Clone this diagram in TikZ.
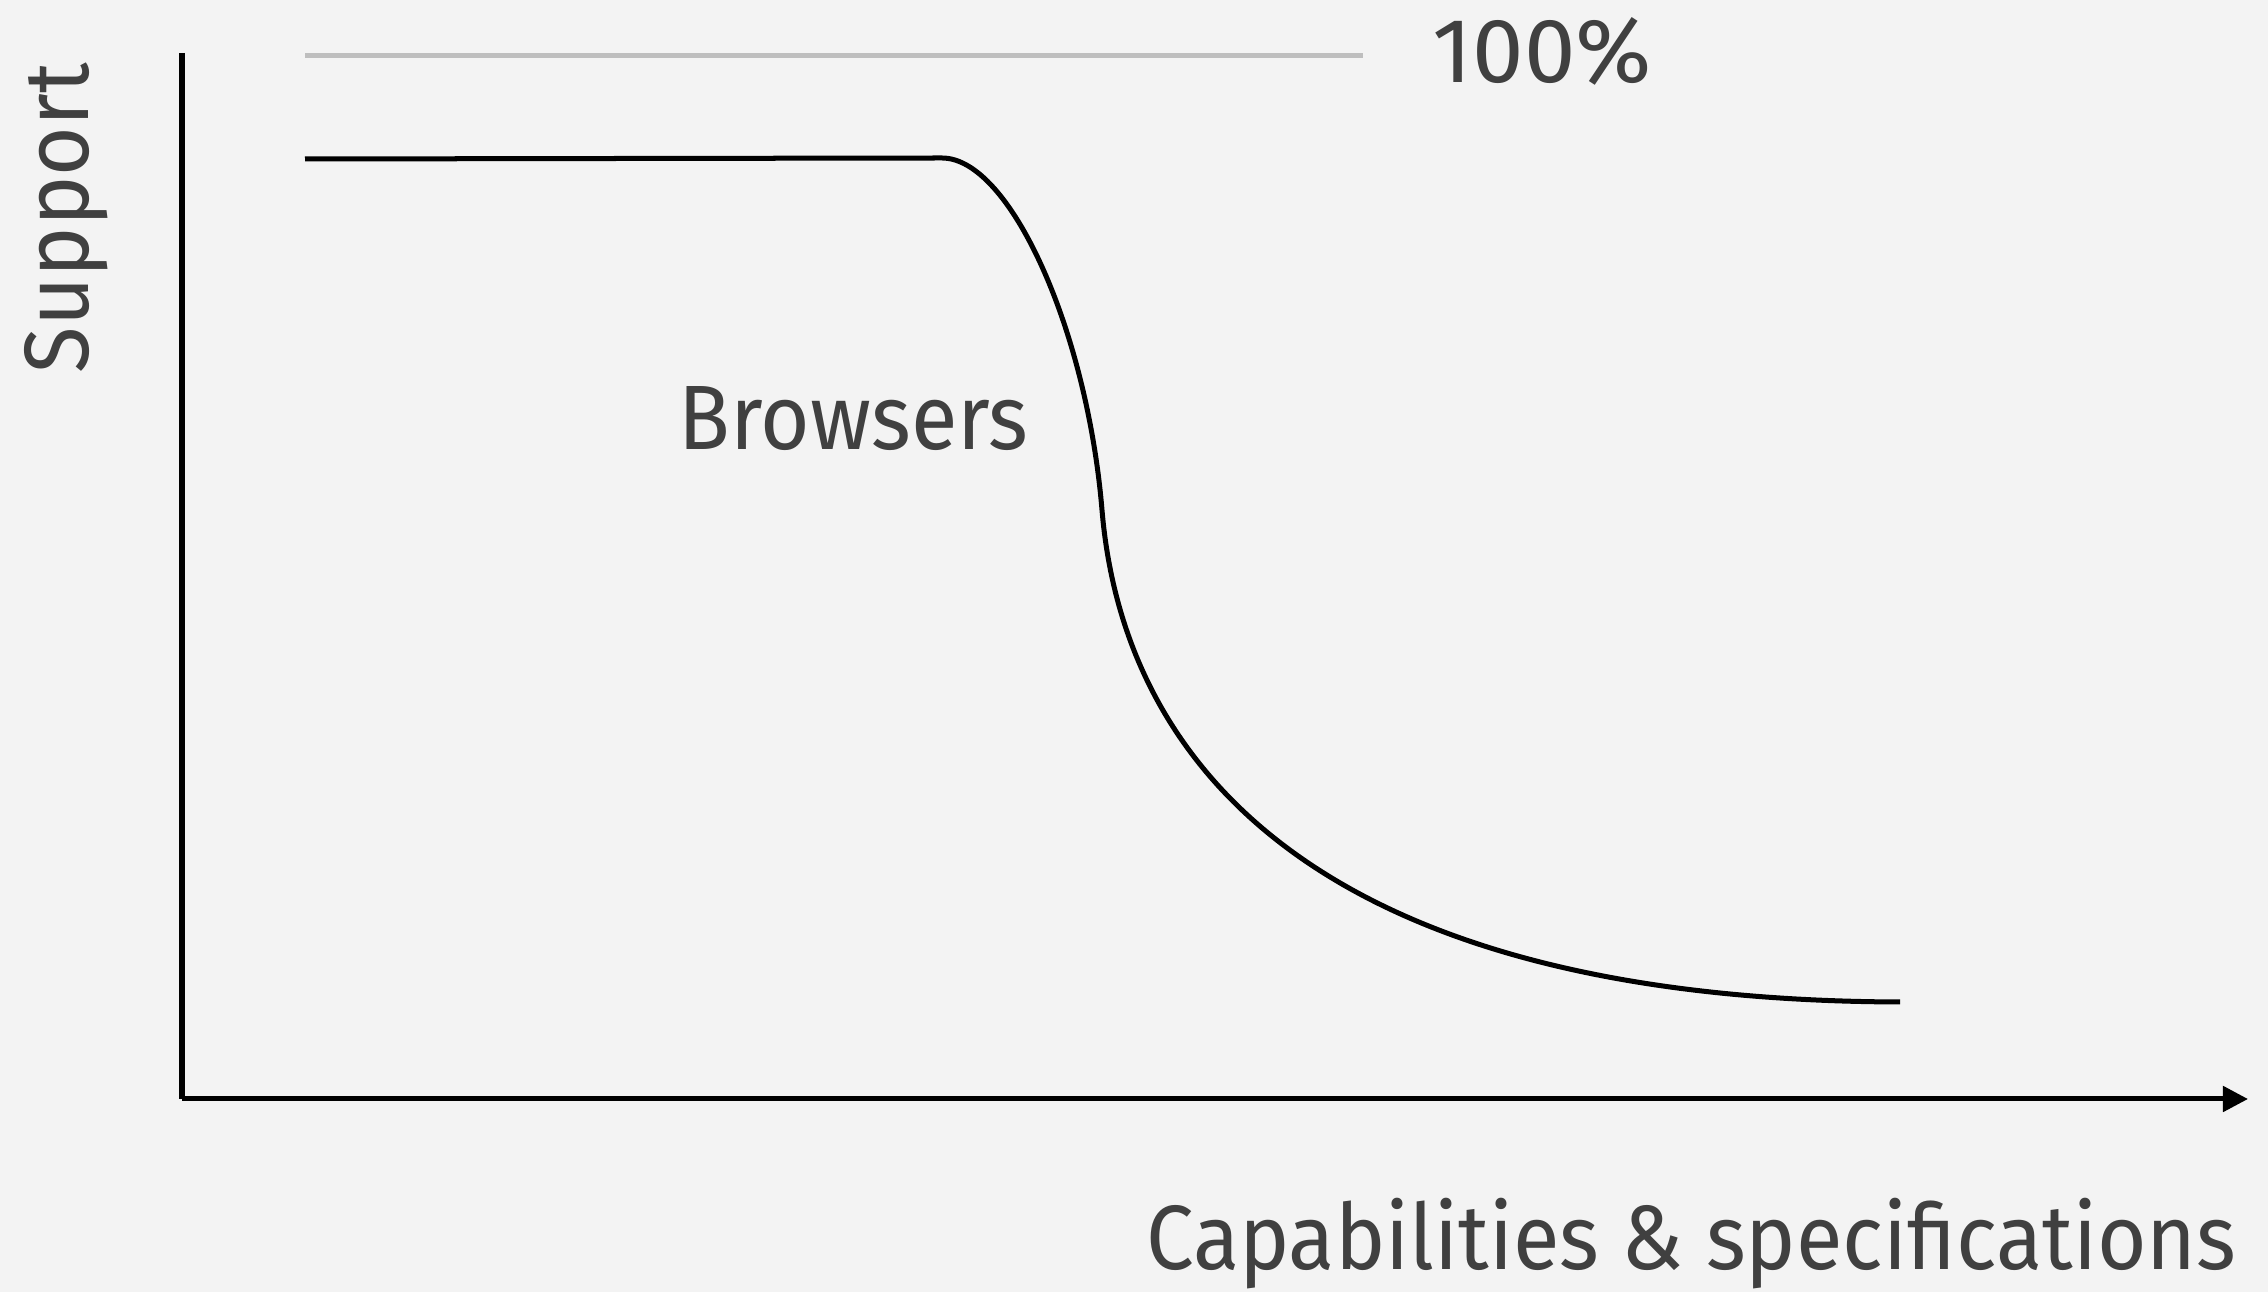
\documentclass[tikz,border=0pt]{standalone}
\usepackage{fontspec}
\setmainfont{Fira Sans}[FakeStretch=0.93]
\newfontfamily\numfont{Fira Sans}[FakeStretch=1.01]
\usepackage{tikz}
\usetikzlibrary{arrows.meta}

\definecolor{bg}{RGB}{243,243,243}
\definecolor{txt}{RGB}{64,64,64}
\definecolor{full}{RGB}{190,190,190}

\begin{document}
\begin{tikzpicture}[x=0.01cm,y=-0.01cm,
  axis/.style={line width=0.05cm,black},
  label/.style={inner sep=0pt,text=txt,font=\fontsize{26pt}{30pt}\selectfont}]
\fill[bg] (0,0) rectangle (2268,1292);
\coordinate (O) at (182,1099);
\coordinate (T) at (182,53);
\coordinate (X) at (2248,1099);
\coordinate (A) at (305,159);
\coordinate (B) at (942,158);
\coordinate (C) at (1102,510);
\coordinate (D) at (1900,1002);
\coordinate (E) at (305,56);
\coordinate (F) at (1363,56);
% axes
\draw[axis] (T) -- (O);
\draw[axis,-{Triangle[length=0.25cm,width=0.25cm]}] (O) -- (X);
% 100% line
\draw[line width=0.05cm,full] (E) -- (F);
% support curve
\draw[axis] (A) -- (B) .. controls (1010,158) and (1087,330) .. (C)
  .. controls (1122,750) and (1300,1000) .. (D);
\node[label,anchor=base west,font=\fontsize{26pt}{30pt}\numfont] (full) at (1432,83) {100\%};
\node[label,anchor=base west] (browsers) at (678,450) {Browsers};
\node[label,anchor=base,rotate=90] (support) at (88,218) {Support};
\node[label,anchor=base east] (caps) at (2237,1270) {Capabilities \& specifications};
\end{tikzpicture}
\end{document}
